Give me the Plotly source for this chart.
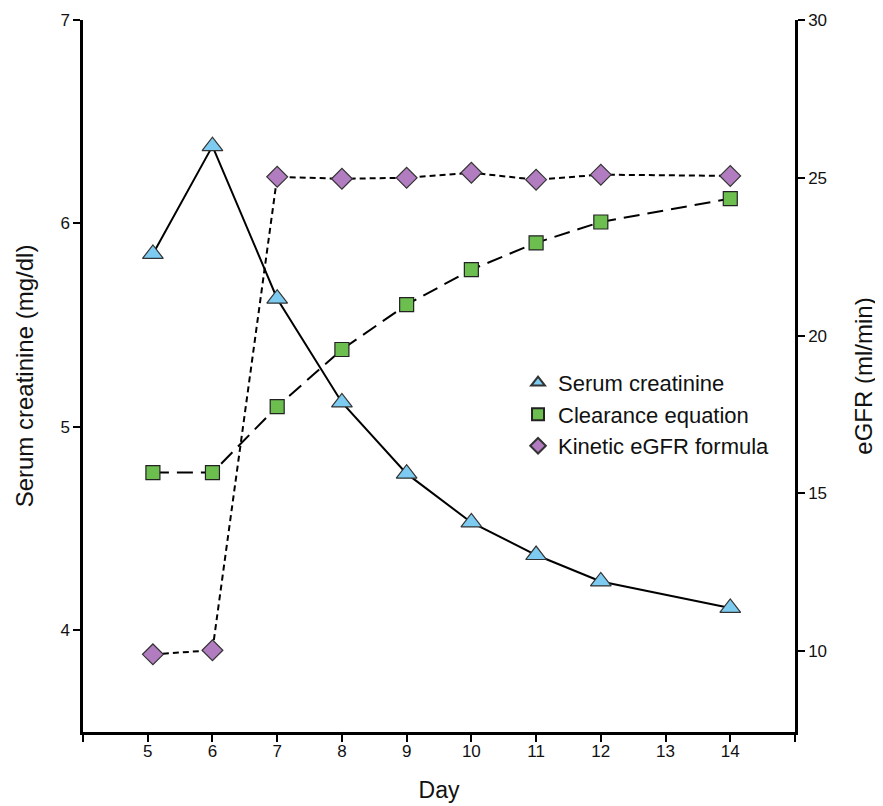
import plotly.graph_objects as go

days = [5.08, 6, 7, 8, 9, 10, 11, 12, 14]
serum_creatinine = [5.85, 6.38, 5.63, 5.12, 4.77, 4.53, 4.37, 4.24, 4.11]
clearance_eq = [15.66, 15.66, 17.75, 19.56, 20.98, 22.09, 22.94, 23.6, 24.34]
kinetic_egfr = [9.9, 10.03, 25.03, 24.97, 25.0, 25.16, 24.94, 25.1, 25.06]

x_ticks = [4, 5, 6, 7, 8, 9, 10, 11, 12, 13, 14, 15]
x_labels = ["", "5", "6", "7", "8", "9", "10", "11", "12", "13", "14", ""]
left_ticks = [4, 5, 6, 7]
right_ticks = [10, 15, 20, 25, 30]

BLUE = "#7ecbf2"
GREEN = "#6cbf4e"
PURPLE = "#b27cc0"
EDGE = "#333333"

tri = dict(symbol="triangle-up", size=18, color=BLUE, line=dict(color=EDGE, width=1.2))
sq = dict(symbol="square", size=14, color=GREEN, line=dict(color="#222222", width=1.2))
dia = dict(symbol="diamond", size=16, color=PURPLE, line=dict(color=EDGE, width=1.2))

fig = go.Figure()
fig.add_trace(go.Scatter(
    x=days, y=kinetic_egfr, yaxis="y2", mode="lines+markers", showlegend=False,
    line=dict(color="black", width=2, dash="6px,4px"), marker=dia))
fig.add_trace(go.Scatter(
    x=days, y=clearance_eq, yaxis="y2", mode="lines+markers", showlegend=False,
    line=dict(color="black", width=2, dash="16px,8px"), marker=sq))
fig.add_trace(go.Scatter(
    x=days, y=serum_creatinine, mode="lines+markers", showlegend=False,
    line=dict(color="black", width=2), marker=tri))

# legend-only entries
fig.add_trace(go.Scatter(x=[None], y=[None], mode="markers", name="Serum creatinine", marker=tri))
fig.add_trace(go.Scatter(x=[None], y=[None], mode="markers", name="Clearance equation", marker=sq))
fig.add_trace(go.Scatter(x=[None], y=[None], mode="markers", name="Kinetic eGFR formula", marker=dia))

font = "Liberation Sans, Arial, sans-serif"
axis_common = dict(showline=True, linecolor="black", linewidth=2.5, ticks="outside",
                   ticklen=7, tickwidth=2, tickcolor="black", showgrid=False,
                   zeroline=False, automargin=False, tickfont=dict(size=17))
fig.update_layout(
    width=875, height=798,
    margin=dict(l=75, r=88, t=12, b=74),
    paper_bgcolor="white", plot_bgcolor="white",
    font=dict(family=font, color="#111111", size=17),
    xaxis=dict(range=[4, 15], tickvals=x_ticks, ticktext=x_labels, ticklabelstandoff=-5,
               title=dict(text="Day", font=dict(size=23), standoff=22), **axis_common),
    yaxis=dict(range=[3.5, 7], tickvals=left_ticks,
               title=dict(text="Serum creatinine (mg/dl)", font=dict(size=24), standoff=20),
               **axis_common),
    yaxis2=dict(range=[7.44, 30], tickvals=right_ticks, overlaying="y", side="right",
                title=dict(text="eGFR (ml/min)", font=dict(size=24), standoff=30),
                **axis_common),
    legend=dict(x=0.611, y=0.52, xanchor="left", yanchor="top",
                bgcolor="rgba(0,0,0,0)", font=dict(size=22), itemsizing="constant",
                tracegroupgap=0),
)

fig.write_html("out.html")
